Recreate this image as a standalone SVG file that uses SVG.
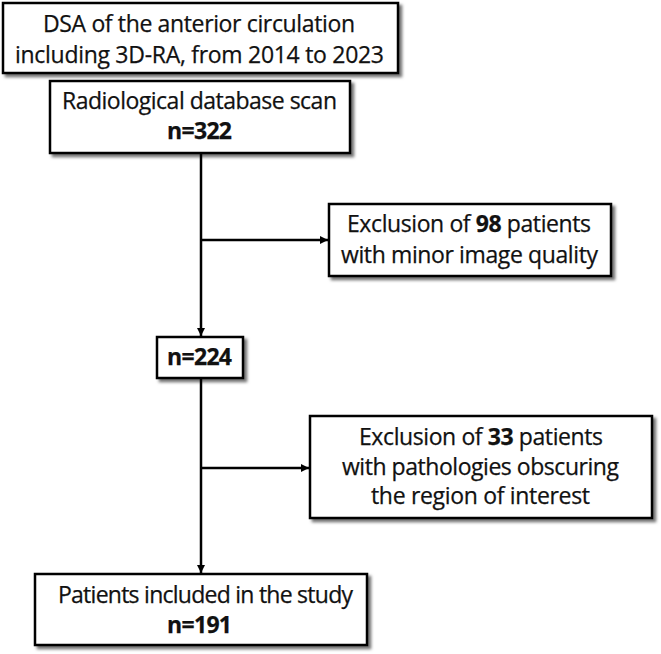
<svg xmlns="http://www.w3.org/2000/svg" width="661" height="654" viewBox="0 0 661 654">
<defs>
<filter id="sh" x="-5%" y="-5%" width="115%" height="125%">
<feDropShadow dx="3" dy="3" stdDeviation="1.5" flood-color="#000" flood-opacity="0.55"/>
</filter>
<marker id="arr" viewBox="0 0 10 10" refX="10" refY="5" markerWidth="8" markerHeight="8" markerUnits="userSpaceOnUse" orient="auto">
<path d="M0,0 L10,5 L0,10 Z" fill="#000"/>
</marker>
<style>
.box{fill:#fff;stroke:#000;stroke-width:2.5;filter:url(#sh)}
.t{font-family:"Open Sans","Liberation Sans",sans-serif;font-size:23px;fill:#111;text-anchor:middle;stroke:#111;stroke-width:0.25}
.b{font-weight:bold}
.c{fill:none;stroke:#000;stroke-width:2.5}
</style>
</defs>
<rect width="661" height="654" fill="#fff"/>
<g id="connectors">
<line class="c" x1="201" y1="153" x2="201" y2="336" marker-end="url(#arr)"/>
<line class="c" x1="201" y1="240" x2="328" y2="240" marker-end="url(#arr)"/>
<line class="c" x1="201" y1="378" x2="201" y2="573" marker-end="url(#arr)"/>
<line class="c" x1="201" y1="468" x2="309" y2="468" marker-end="url(#arr)"/>
</g>
<g id="n1">
<rect class="box" x="3" y="3" width="395" height="70"/>
<text class="t" x="199" y="32" textLength="312">DSA of the anterior circulation</text>
<text class="t" x="199.5" y="63" textLength="369">including 3D-RA, from 2014 to 2023</text>
</g>
<g id="n2">
<rect class="box" x="50" y="81" width="300" height="72"/>
<text class="t" x="199.5" y="109" textLength="275">Radiological database scan</text>
<text class="t b" x="199.5" y="139" textLength="65">n=322</text>
</g>
<g id="n3">
<rect class="box" x="329" y="204" width="282" height="72"/>
<text class="t" x="469" y="232" textLength="244">Exclusion of <tspan class="b">98</tspan> patients</text>
<text class="t" x="469.5" y="263" textLength="257">with minor image quality</text>
</g>
<g id="n4">
<rect class="box" x="157" y="337" width="86" height="41"/>
<text class="t b" x="199.5" y="365" textLength="65">n=224</text>
</g>
<g id="n5">
<rect class="box" x="310" y="416" width="342" height="102"/>
<text class="t" x="481" y="445" textLength="244">Exclusion of <tspan class="b">33</tspan> patients</text>
<text class="t" x="480.5" y="475" textLength="277">with pathologies obscuring</text>
<text class="t" x="480.5" y="504" textLength="219">the region of interest</text>
</g>
<g id="n6">
<rect class="box" x="35" y="574" width="332" height="71"/>
<text class="t" x="205.5" y="603" textLength="295">Patients included in the study</text>
<text class="t b" x="199.5" y="633" textLength="65">n=191</text>
</g>
</svg>
